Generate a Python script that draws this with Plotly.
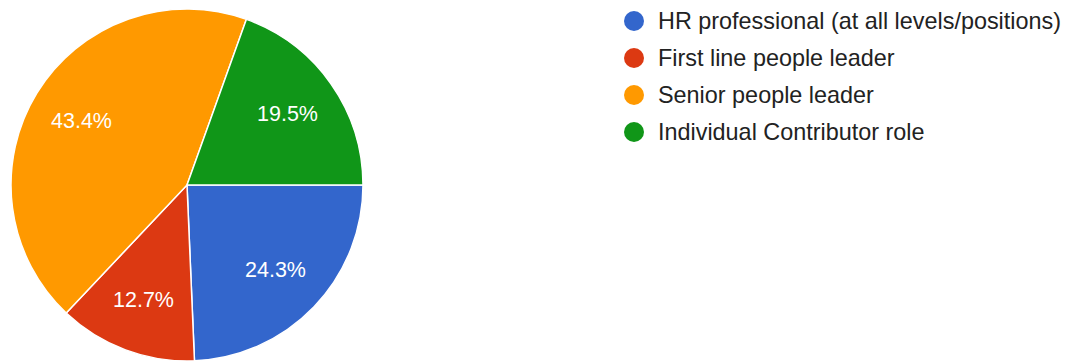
import math
import plotly.graph_objects as go

# Survey responses by role (share of respondents, %)
roles = [
    "HR professional (at all levels/positions)",
    "First line people leader",
    "Senior people leader",
    "Individual Contributor role",
]
shares = [24.3, 12.7, 43.4, 19.5]
colors = ["#3366cc", "#dc3912", "#ff9900", "#109618"]

W, H = 1069, 362
FONT = "Liberation Sans, Arial, sans-serif"

# Pie placement in pixels (centre and radius)
cx, cy0, rad = 187, 185, 176

fig = go.Figure(
    go.Pie(
        labels=roles,
        values=shares,
        sort=False,
        direction="clockwise",
        rotation=90,
        marker=dict(colors=colors, line=dict(color="white", width=1.5)),
        textinfo="none",
        domain=dict(x=[(cx - rad) / W, (cx + rad) / W],
                    y=[1 - (cy0 + rad) / H, 1 - (cy0 - rad) / H]),
        showlegend=False,
        hoverinfo="label+percent",
    )
)

annotations = []

# Percentage labels placed at each slice's mid-angle
total = sum(shares)
acc = 0.0
label_frac = 0.7
for v in shares:
    mid = (acc + v / 2) / total * 2 * math.pi  # clockwise from 3 o'clock
    acc += v
    px = cx + label_frac * rad * math.cos(mid)
    py = cy0 + label_frac * rad * math.sin(mid)
    annotations.append(
        dict(
            xref="paper", yref="paper",
            x=px / W, y=1 - py / H,
            xanchor="center", yanchor="middle",
            text=f"{v:.1f}%", showarrow=False,
            font=dict(size=21.5, color="white", family=FONT),
        )
    )

# Legend drawn as circle swatches with labels
legend_x = 634
legend_top = 21
row_gap = 37
r = 10
shapes = []
for i, (name, col) in enumerate(zip(roles, colors)):
    ly = legend_top + i * row_gap
    shapes.append(
        dict(
            type="circle",
            xref="paper", yref="paper",
            x0=(legend_x - r) / W, x1=(legend_x + r) / W,
            y0=1 - (ly + r) / H, y1=1 - (ly - r) / H,
            fillcolor=col, line=dict(width=0),
        )
    )
    annotations.append(
        dict(
            xref="paper", yref="paper",
            x=656 / W, y=1 - ly / H,
            xanchor="left", yanchor="middle",
            text=name, showarrow=False,
            font=dict(size=23.4, color="#222222", family=FONT),
        )
    )

fig.update_layout(
    width=W,
    height=H,
    margin=dict(l=0, r=0, t=0, b=0),
    paper_bgcolor="white",
    plot_bgcolor="white",
    shapes=shapes,
    annotations=annotations,
)

fig.write_html("out.html")
